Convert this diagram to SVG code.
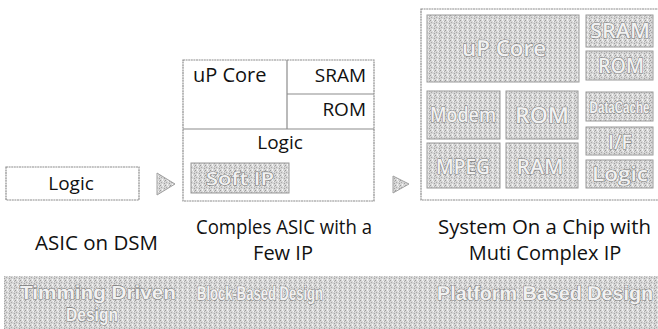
<svg xmlns="http://www.w3.org/2000/svg" width="658" height="329" viewBox="0 0 658 329">
<defs>
<pattern id="stip" width="5" height="5" patternUnits="userSpaceOnUse">
<rect width="5" height="5" fill="#d6d6d6"/>
<rect x="0" y="0" width="1" height="1" fill="#9a9a9a"/>
<rect x="3" y="1" width="1" height="1" fill="#f4f4f4"/>
<rect x="1" y="2" width="1" height="1" fill="#aaaaaa"/>
<rect x="4" y="3" width="1" height="1" fill="#a0a0a0"/>
<rect x="2" y="4" width="1" height="1" fill="#f8f8f8"/>
<rect x="2" y="0" width="1" height="1" fill="#ededed"/>
<rect x="4" y="1" width="1" height="1" fill="#b4b4b4"/>
</pattern>
</defs>
<style>
.box{fill:#fff;stroke:#8c8c8c;stroke-width:1.2;stroke-dasharray:2 0.6}
.blk{fill:url(#stip);stroke:#9a9a9a;stroke-width:1}
.line{stroke:#8c8c8c;stroke-width:1.2;fill:none}
.t{font-family:"Open Sans","Noto Sans","Liberation Sans",sans-serif;fill:#111}
.g{font-family:"Open Sans","Noto Sans","Liberation Sans",sans-serif;font-weight:600;fill:#f2f2f2;stroke:#7a7a7a;stroke-width:1.1;paint-order:stroke;text-anchor:middle;text-rendering:geometricPrecision;opacity:0.99}
.gb{font-family:"Liberation Sans",Arial,sans-serif;font-weight:700}
.arr{fill:url(#stip);stroke:#a0a0a0;stroke-width:1}
</style>
<rect width="658" height="329" fill="#fff"/>

<g id="asic-dsm">
<rect class="box" x="6" y="167" width="133" height="33"/>
<text class="t" x="71" y="190" font-size="19" text-anchor="middle">Logic</text>
<text class="t" x="35" y="250" font-size="20" textLength="123" lengthAdjust="spacingAndGlyphs">ASIC on DSM</text>
</g>

<g id="complex-asic">
<rect class="box" x="183" y="60" width="191" height="141"/>
<line class="line" x1="287" y1="60" x2="287" y2="129"/>
<line class="line" x1="287" y1="94" x2="374" y2="94"/>
<line class="line" x1="183" y1="129" x2="374" y2="129"/>
<text class="t" x="193" y="82" font-size="20">uP Core</text>
<text class="t" x="366" y="82" font-size="19" text-anchor="end">SRAM</text>
<text class="t" x="366" y="116" font-size="19" text-anchor="end">ROM</text>
<text class="t" x="280" y="149" font-size="19" text-anchor="middle">Logic</text>
<rect class="blk" x="191" y="163" width="98" height="30"/>
<text class="g" x="240" y="185" font-size="18" textLength="68" lengthAdjust="spacingAndGlyphs">Soft IP</text>
<text class="t" x="196" y="234" font-size="20" textLength="176" lengthAdjust="spacingAndGlyphs">Comples ASIC with a</text>
<text class="t" x="283" y="260" font-size="20" text-anchor="middle">Few IP</text>
</g>

<g id="soc">
<rect class="box" x="421" y="9" width="240" height="191"/>
<rect class="blk" x="427" y="15" width="152" height="67"/>
<text class="g" x="504" y="56" font-size="22" textLength="84" lengthAdjust="spacingAndGlyphs">uP Core</text>
<rect class="blk" x="586" y="15" width="67" height="32"/>
<text class="g" x="620" y="38" font-size="21" textLength="60" lengthAdjust="spacingAndGlyphs">SRAM</text>
<rect class="blk" x="586" y="51" width="67" height="29"/>
<text class="g" x="621" y="73" font-size="21" textLength="46" lengthAdjust="spacingAndGlyphs">ROM</text>
<rect class="blk" x="427" y="91" width="73" height="48"/>
<text class="g" x="463" y="122" font-size="21" textLength="66" lengthAdjust="spacingAndGlyphs">Modem</text>
<rect class="blk" x="506" y="91" width="72" height="48"/>
<text class="g" x="542" y="123" font-size="22" textLength="54" lengthAdjust="spacingAndGlyphs">ROM</text>
<rect class="blk" x="427" y="143" width="73" height="45"/>
<text class="g" x="463" y="174" font-size="21" textLength="54" lengthAdjust="spacingAndGlyphs">MPEG</text>
<rect class="blk" x="506" y="143" width="72" height="45"/>
<text class="g" x="540" y="174" font-size="21" textLength="47" lengthAdjust="spacingAndGlyphs">RAM</text>
<rect class="blk" x="586" y="92" width="67" height="29"/>
<text class="g gb" transform="translate(619.5 113) scale(0.68 1)" x="0" y="0" font-size="17">DataCache</text>
<rect class="blk" x="586" y="127" width="67" height="28"/>
<text class="g" x="620" y="149" font-size="20" textLength="24" lengthAdjust="spacingAndGlyphs">I/F</text>
<rect class="blk" x="586" y="160" width="67" height="28"/>
<text class="g" x="620" y="181" font-size="20" textLength="56" lengthAdjust="spacingAndGlyphs">Logic</text>
<text class="t" x="438" y="234" font-size="20" textLength="213" lengthAdjust="spacingAndGlyphs">System On a Chip with</text>
<text class="t" x="545" y="260" font-size="20" text-anchor="middle">Muti Complex IP</text>
</g>

<g id="connectors">
<polygon class="arr" points="157,173 175,184 157,195"/>
<polygon class="arr" points="393,176 409,184 393,193"/>
</g>

<g id="methodology-bar">
<rect x="4" y="276" width="660" height="53" fill="url(#stip)"/>
<text class="g gb" x="98" y="299" font-size="19" textLength="156" lengthAdjust="spacingAndGlyphs">Timming Driven</text>
<text class="g gb" x="92" y="321" font-size="19" textLength="52" lengthAdjust="spacingAndGlyphs">Design</text>
<text class="g gb" x="260" y="300" font-size="20" textLength="126" lengthAdjust="spacingAndGlyphs">Block-Based Design</text>
<text class="g gb" x="545" y="300" font-size="20" textLength="216" lengthAdjust="spacingAndGlyphs">Platform Based Design</text>
</g>
</svg>
